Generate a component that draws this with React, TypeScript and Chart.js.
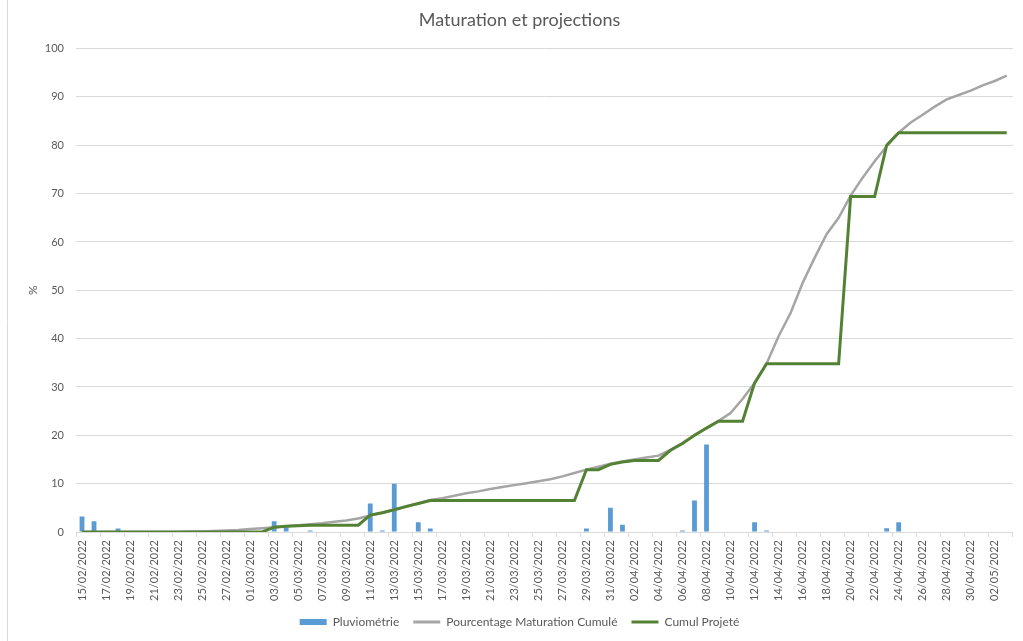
import React, { useEffect, useRef } from 'react';
import { Chart, registerables } from 'chart.js';

Chart.register(...registerables);

const dates = [
  '15/02/2022', '16/02/2022', '17/02/2022', '18/02/2022', '19/02/2022', '20/02/2022', '21/02/2022',
  '22/02/2022', '23/02/2022', '24/02/2022', '25/02/2022', '26/02/2022', '27/02/2022', '28/02/2022',
  '01/03/2022', '02/03/2022', '03/03/2022', '04/03/2022', '05/03/2022', '06/03/2022', '07/03/2022',
  '08/03/2022', '09/03/2022', '10/03/2022', '11/03/2022', '12/03/2022', '13/03/2022', '14/03/2022',
  '15/03/2022', '16/03/2022', '17/03/2022', '18/03/2022', '19/03/2022', '20/03/2022', '21/03/2022',
  '22/03/2022', '23/03/2022', '24/03/2022', '25/03/2022', '26/03/2022', '27/03/2022', '28/03/2022',
  '29/03/2022', '30/03/2022', '31/03/2022', '01/04/2022', '02/04/2022', '03/04/2022', '04/04/2022',
  '05/04/2022', '06/04/2022', '07/04/2022', '08/04/2022', '09/04/2022', '10/04/2022', '11/04/2022',
  '12/04/2022', '13/04/2022', '14/04/2022', '15/04/2022', '16/04/2022', '17/04/2022', '18/04/2022',
  '19/04/2022', '20/04/2022', '21/04/2022', '22/04/2022', '23/04/2022', '24/04/2022', '25/04/2022',
  '26/04/2022', '27/04/2022', '28/04/2022', '29/04/2022', '30/04/2022', '01/05/2022', '02/05/2022',
  '03/05/2022',
];

const pluviometrie = [
  3.2, 2.2, 0, 0.7, 0, 0, 0, 0, 0, 0,
  0, 0, 0, 0, 0, 0, 2.2, 1.0, 0, 0.3,
  0, 0, 0, 0, 5.9, 0.3, 10.0, 0, 2.0, 0.7,
  0, 0, 0, 0, 0, 0, 0, 0, 0, 0,
  0, 0, 0.7, 0, 5.0, 1.5, 0, 0, 0, 0,
  0.3, 6.5, 18.1, 0, 0, 0, 2.0, 0.3, 0, 0,
  0, 0, 0, 0, 0, 0, 0, 0.8, 2.0, 0,
  0, 0, 0, 0, 0, 0, 0, 0,
];

const maturationCumule = [
  0, 0, 0, 0, 0, 0, 0, 0, 0, 0.1,
  0.1, 0.2, 0.3, 0.4, 0.6, 0.8, 1.0, 1.2, 1.4, 1.6,
  1.8, 2.1, 2.4, 2.8, 3.4, 4.0, 4.6, 5.2, 5.9, 6.6,
  7.0, 7.5, 8.0, 8.4, 8.9, 9.3, 9.7, 10.1, 10.5, 10.9,
  11.5, 12.2, 12.9, 13.5, 14.1, 14.6, 15.0, 15.4, 15.8, 17.0,
  18.4, 20.0, 21.5, 23.0, 24.6, 27.5, 30.8, 34.8, 40.5, 45.3,
  51.5, 56.7, 61.6, 65.0, 69.6, 73.3, 76.7, 79.8, 82.6, 84.7,
  86.3, 88.0, 89.5, 90.4, 91.3, 92.4, 93.3, 94.4,
];

const cumulProjete = [
  0, 0, 0, 0, 0, 0, 0, 0, 0, 0,
  0, 0, 0, 0, 0, 0, 1.0, 1.2, 1.3, 1.4,
  1.4, 1.4, 1.4, 1.4, 3.5, 4.0, 4.6, 5.3, 5.9, 6.5,
  6.5, 6.5, 6.5, 6.5, 6.5, 6.5, 6.5, 6.5, 6.5, 6.5,
  6.5, 6.5, 12.9, 12.9, 14.0, 14.5, 14.8, 14.8, 14.8, 16.9,
  18.3, 20.0, 21.5, 22.9, 22.9, 22.9, 30.8, 34.8, 34.8, 34.8,
  34.8, 34.8, 34.8, 34.8, 69.4, 69.4, 69.4, 80.0, 82.6, 82.6,
  82.6, 82.6, 82.6, 82.6, 82.6, 82.6, 82.6, 82.6,
];

const TITLE = 'Maturation et projections';
const SERIES_NAMES = ['Pluviométrie', 'Pourcentage Maturation Cumulé', 'Cumul Projeté'];
const COLORS = ['#5B9BD5', '#A5A5A5', '#548235'];
const TEXT = '#595959';
const GRID = '#D9D9D9';

const background = {
  id: 'bg',
  beforeDraw(chart: any) {
    const { ctx, width, height } = chart;
    ctx.save();
    ctx.fillStyle = '#ffffff';
    ctx.fillRect(0, 0, width, height);
    ctx.strokeStyle = GRID;
    ctx.lineWidth = 1;
    ctx.beginPath();
    ctx.moveTo(7.5, 0);
    ctx.lineTo(7.5, height);
    ctx.stroke();
    ctx.restore();
  },
};

export default function App() {
  const ref = useRef<HTMLCanvasElement | null>(null);

  useEffect(() => {
    if (!ref.current) return;
    Chart.defaults.font.family = 'Lato';
    const chart = new Chart(ref.current, {
      type: 'bar',
      data: {
        labels: dates,
        datasets: [
          {
            type: 'bar',
            label: SERIES_NAMES[0],
            data: pluviometrie,
            backgroundColor: COLORS[0],
            borderWidth: 0,
            barPercentage: 0.4,
            categoryPercentage: 1.0,
            order: 3,
          } as any,
          {
            type: 'line',
            label: SERIES_NAMES[1],
            data: maturationCumule,
            borderColor: COLORS[1],
            backgroundColor: COLORS[1],
            borderWidth: 2.5,
            pointRadius: 0,
            tension: 0,
            fill: false,
            order: 2,
          } as any,
          {
            type: 'line',
            label: SERIES_NAMES[2],
            data: cumulProjete,
            borderColor: COLORS[2],
            backgroundColor: COLORS[2],
            borderWidth: 3,
            pointRadius: 0,
            tension: 0,
            fill: false,
            order: 1,
          } as any,
        ],
      },
      options: {
        animation: false,
        responsive: false,
        layout: { padding: { left: 22, right: 6, top: 0, bottom: 3 } },
        plugins: {
          title: {
            display: true,
            text: TITLE,
            color: TEXT,
            font: { family: 'Lato', size: 18, weight: 'normal' },
            padding: { top: 9, bottom: 18 },
          },
          legend: {
            display: true,
            position: 'bottom',
            labels: {
              color: TEXT,
              font: { family: 'Lato', size: 12 },
              usePointStyle: true,
              pointStyleWidth: 27,
              boxHeight: 6,
              padding: 14,
              generateLabels: () => [
                { text: SERIES_NAMES[0], fillStyle: COLORS[0], strokeStyle: COLORS[0], lineWidth: 0, pointStyle: 'rect', hidden: false, datasetIndex: 0, fontColor: TEXT },
                { text: SERIES_NAMES[1], fillStyle: COLORS[1], strokeStyle: COLORS[1], lineWidth: 3, pointStyle: 'line', hidden: false, datasetIndex: 1, fontColor: TEXT },
                { text: SERIES_NAMES[2], fillStyle: COLORS[2], strokeStyle: COLORS[2], lineWidth: 3, pointStyle: 'line', hidden: false, datasetIndex: 2, fontColor: TEXT },
              ] as any,
            },
          },
          tooltip: { enabled: false },
        },
        scales: {
          x: {
            type: 'category',
            offset: true,
            afterFit: (scale: any) => { scale.height = 70; },
            grid: {
              display: true,
              offset: true,
              drawOnChartArea: false,
              drawTicks: true,
              tickLength: 5,
              color: (ctx: any) => (ctx.index === undefined || ctx.index % 2 === 0 ? GRID : 'rgba(0,0,0,0)'),
            },
            border: { display: true, color: GRID, width: 1 },
            ticks: {
              autoSkip: false,
              minRotation: 90,
              maxRotation: 90,
              padding: 3,
              color: TEXT,
              font: { family: 'Lato', size: 11 },
              callback: function (this: any, value: any, index: number) {
                return index % 2 === 0 ? this.getLabelForValue(value) : '';
              },
            },
          },
          y: {
            min: 0,
            max: 100,
            afterFit: (scale: any) => { scale.width = 54; },
            grid: { color: GRID, lineWidth: 1, drawTicks: false },
            border: { display: false },
            ticks: {
              stepSize: 10,
              padding: 12,
              color: TEXT,
              font: { family: 'Lato', size: 11 },
            },
            title: {
              display: true,
              text: '%',
              color: TEXT,
              font: { family: 'Lato', size: 12 },
              padding: { top: 4, bottom: 0 },
            },
          },
        },
      },
      plugins: [background],
    } as any);
    return () => chart.destroy();
  }, []);

  return (
    <div style={{ position: 'absolute', left: 0, top: 0, width: 1023, height: 641, background: '#fff' }}>
      <canvas ref={ref} width={1023} height={641} style={{ display: 'block' }} />
    </div>
  );
}
